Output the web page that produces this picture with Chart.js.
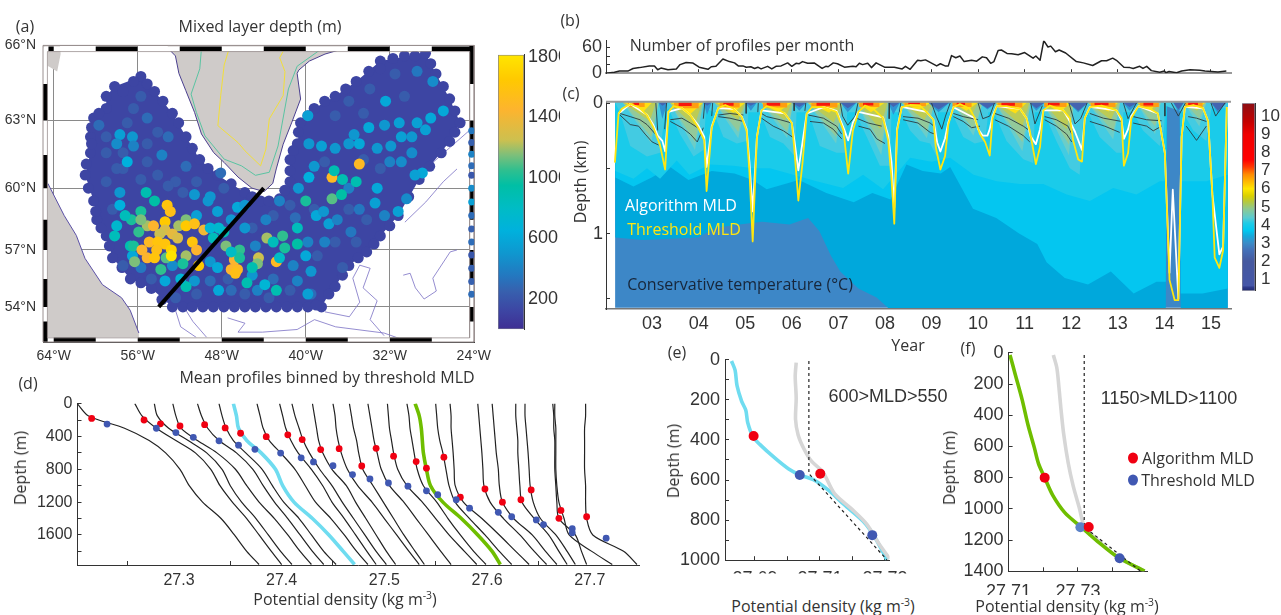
<!DOCTYPE html>
<html>
<head>
<meta charset="utf-8">
<script src="https://cdn.jsdelivr.net/npm/chart.js@4"></script>
<style>
html,body{margin:0;background:#fff;overflow:hidden}
#page{position:relative;width:1281px;height:615px}
canvas{position:absolute}
.t{position:absolute;white-space:nowrap;transform:translate(-50%,-50%);font-family:"Open Sans",sans-serif;color:#333;line-height:1}
.t sup{font-size:.65em;line-height:0}
.dot{position:absolute;width:10px;height:11px;border-radius:50%;transform:translate(-50%,-50%)}
</style>
</head>
<body>
<div id="page"></div>
<script>
// ---- (a) map: lon, lat, mld
var edgeDots=[[-55.7,64.8],[-54.4,64.2],[-52.7,63.3],[-51.4,62.3],[-50.1,61.3],[-48.4,60.6],[-45.8,59.8],[-44.3,59.4],[-42.5,59.5],[-41.5,60.3],[-41.5,61.3],[-40.8,62.0],[-40.5,62.9],[-39.2,63.5],[-37.2,64.0],[-35.2,64.6],[-32.9,65.4],[-28.6,65.7],[-27.6,64.9],[-26.3,63.9],[-25.3,62.9],[-26.3,62.1],[-29.2,60.4],[-31.2,58.7],[-32.9,57.7],[-34.2,56.9],[-35.9,56.2],[-37.2,55.1],[-37.8,54.7],[-38.5,54.0],[-52.7,54.0],[-54.7,55.0],[-56.7,55.5],[-58.4,56.6],[-59.0,57.7],[-59.9,58.5],[-60.2,59.4],[-61.0,60.6],[-60.5,61.6],[-60.5,62.3],[-60.2,63.1],[-59.0,63.5],[-59.0,64.0],[-58.2,64.4],
[-55.1,64.5],[-53.6,63.8],[-52.1,62.9],[-50.8,61.8],[-49.3,60.9],[-47.1,60.2],[-45.1,59.6],[-43.5,59.4],[-42.0,59.9],[-41.5,60.8],[-41.2,61.7],[-40.7,62.5],[-39.8,63.2],[-38.2,63.8],[-36.2,64.3],[-34.0,65.0],[-32.9,65.1],[-31.7,65.5],[-30.6,65.6],[-29.6,65.6],[-28.1,65.3],[-26.9,64.4],[-25.8,63.4],[-25.8,62.5],[-27.1,61.6],[-28.2,61.0],[-30.2,59.6],[-32.0,58.2],[-33.5,57.3],[-35.0,56.6],[-36.5,55.7],
[-51.7,54.0],[-50.8,54.0],[-49.8,54.0],[-48.8,54.0],[-47.8,54.0],[-46.8,54.0],[-45.8,54.0],[-44.8,54.0],[-43.8,54.0],[-42.8,54.0],[-41.8,54.0],[-40.8,54.0],[-39.8,54.0],[-39.0,54.1],
[-53.7,54.4],[-55.7,55.3],[-57.5,56.1],[-58.7,57.2],[-59.5,58.1],[-60.0,58.9],[-60.7,60.0],[-60.9,61.1],[-60.4,62.0],[-60.4,62.7],[-59.7,63.3],[-56.4,64.6],[-57.4,64.2]];
var regionOutline=[[-55.7,64.8],[-54.4,64.2],[-52.7,63.3],[-51.4,62.3],[-50.1,61.3],[-48.4,60.6],[-45.8,59.8],[-44.3,59.4],[-42.5,59.5],[-41.5,60.3],[-41.5,61.3],[-40.8,62.0],[-40.5,62.9],[-39.2,63.5],[-37.2,64.0],[-35.2,64.6],[-32.9,65.4],[-28.6,65.7],[-27.6,64.9],[-26.3,63.9],[-25.3,62.9],[-26.3,62.1],[-29.2,60.4],[-31.2,58.7],[-32.9,57.7],[-34.2,56.9],[-35.9,56.2],[-37.2,55.1],[-37.8,54.7],[-38.5,54.0],[-52.7,54.0],[-54.7,55.0],[-56.7,55.5],[-58.4,56.6],[-59.0,57.7],[-59.9,58.5],[-60.2,59.4],[-61.0,60.6],[-60.5,61.6],[-60.5,62.3],[-60.2,63.1],[-59.0,63.5],[-59.0,64.0],[-58.2,64.4]];
var textureDots=[[-59.0,61.6],[-57.4,60.9],[-55.1,61.2],[-54.1,60.6],[-52.4,60.3],[-55.7,60.4],[-59.0,60.3],[-57.4,61.6],[-55.1,62.0],[-58.4,59.0],[-56.4,63.5],[-54.1,62.5],[-50.4,60.3],[-47.8,60.0],[-59.0,62.3],[-57.0,62.9],[-55.7,64.0],[-58.0,60.9],[-51.7,59.8],[-53.1,60.1],[-47.4,55.5],[-45.8,54.7],[-43.5,54.5],[-41.5,54.9],[-50.4,54.7],[-52.4,54.5],[-54.7,55.5],[-57.4,56.2],[-45.1,58.1],[-43.1,58.7],[-41.5,59.2],[-35.9,63.8],[-33.9,64.3],[-31.5,64.9],[-30.6,64.0],[-37.2,63.2],[-34.5,63.3],[-38.2,61.2],[-34.5,61.3],[-32.9,60.9],[-35.9,59.0],[-34.2,58.5],[-37.2,57.4],[-35.2,57.4],[-39.2,59.0],[-38.9,56.7],[-36.5,56.1]];
var mediumDots=[[-39.8,63.2,550],[-32.4,63.8,600],[-29.4,65.0,350],[-27.9,64.6,450],[-26.9,63.4,600],[-28.1,63.1,600],[-29.4,62.9,550],[-31.1,62.9,550],[-32.5,62.8,500],[-34.0,62.7,600],[-35.4,62.4,500],[-34.9,62.0,600],[-28.6,62.6,550],[-29.9,62.3,500],[-30.9,62.3,550],[-31.9,61.9,500],[-33.2,61.8,500],[-35.9,62.0,500],[-37.2,61.8,500],[-38.5,61.9,550],[-39.7,62.0,500],[-29.9,61.6,450],[-28.9,60.7,600],[-29.6,60.6,550],[-30.9,61.2,450],[-32.0,61.2,400],[-33.2,60.0,600],[-35.9,60.0,400],[-39.7,60.5,650],[-39.2,61.0,500],[-40.7,60.0,500],[-30.4,59.5,450],[-31.2,58.9,550],[-33.4,59.3,550],[-39.0,58.7,600],[-38.3,58.9,500],[-37.8,58.3,550],[-34.9,59.0,350],[-37.0,58.5,400],[-35.7,57.9,350],[-32.5,58.7,400],[-38.2,57.4,400],
[-57.7,62.4,550],[-56.5,62.3,500],[-57.0,61.2,650],[-56.4,61.9,400],[-53.7,61.5,400],[-57.7,59.8,500],[-49.1,59.6,500],[-50.6,59.7,500],[-48.4,58.9,550],[-46.5,59.1,600],[-45.8,59.2,500],[-47.1,58.5,500],[-48.1,60.7,300],[-58.0,62.0,450],[-59.7,62.8,300],[-55.1,63.1,300],[-53.1,62.3,300],[-51.4,61.0,300],[-53.4,55.4,600],[-55.7,56.1,350],[-52.7,56.2,450],[-56.5,56.7,600],[-50.4,58.7,550],[-49.3,59.4,500],[-50.6,55.4,500],[-47.1,54.9,300],[-44.6,54.9,400],[-48.3,54.9,600],[-49.1,56.4,500],[-45.1,55.7,500],[-43.1,55.5,300],[-40.8,55.4,400],[-41.2,56.2,400],[-39.5,54.7,300],[-42.5,59.4,400],[-43.8,58.5,400],[-45.8,58.1,500],[-44.8,57.2,400],[-49.1,55.4,300],[-39.8,57.4,400],[-41.0,58.6,300]];
var highDots=[[-55.2,59.8,900],[-56.6,58.5,1000],[-55.7,58.9,1000],[-55.1,58.2,1200],[-55.7,58.5,1150],[-54.4,59.4,950],[-53.2,59.2,1600],[-52.9,58.9,1550],[-51.4,58.5,1150],[-53.4,58.4,1650],[-52.1,58.2,1200],[-51.4,58.2,1650],[-50.6,58.3,1550],[-53.4,58.0,1300],[-54.5,58.2,1450],[-55.9,57.9,1050],[-53.9,57.8,1250],[-52.7,57.8,1350],[-52.2,57.6,1300],[-49.7,58.0,1400],[-56.7,57.2,900],[-56.4,57.2,1000],[-54.9,57.4,1500],[-54.1,57.4,1600],[-53.4,57.3,1600],[-55.6,57.0,1450],[-54.2,57.0,1550],[-52.8,57.0,1700],[-50.8,57.4,1600],[-50.4,57.0,1450],[-51.4,56.7,1200],[-55.1,56.6,1450],[-54.4,56.6,1600],[-53.3,56.6,1100],[-52.8,56.7,1800],[-56.3,56.4,1150],[-53.8,56.0,1050],[-51.7,56.3,1000],[-50.2,56.2,1650],[-58.2,57.7,850],[-58.0,58.2,750],[-57.2,58.7,850],[-57.7,59.2,650],[-48.8,57.6,850],[-47.8,57.9,900],[-47.6,57.2,1150],[-49.1,58.1,700],[-48.3,58.1,750],[-51.4,55.1,900],[-51.9,55.5,700],
[-47.1,56.0,1450],[-46.5,56.0,1500],[-46.7,55.8,1550],[-46.8,56.5,1450],[-46.3,57.0,1050],[-46.3,56.6,1000],[-44.5,56.6,1250],[-44.6,56.3,1150],[-43.7,57.6,1200],[-45.1,56.1,900],[-45.6,55.3,900],[-42.8,56.4,1500],[-42.2,57.7,1050],[-40.8,57.3,950],[-43.1,57.4,850],[-42.0,57.1,1000],[-42.8,54.9,900],[-42.5,56.6,800],[-40.8,58.1,850],[-43.9,55.2,700],[-47.1,56.9,800],[-48.4,56.1,600],[-40.0,59.4,1000],[-37.5,59.5,1100],[-36.6,59.7,950],[-37.5,60.5,1500],[-34.9,61.1,1500],[-37.3,60.8,900],[-36.5,60.4,900],[-35.2,60.3,900],[-39.5,55.9,500],[-39.8,54.7,550],[-40.0,56.7,600]];
var rightEdgeDots=[[-24.2,62.56,350],[-24.2,62.05,250],[-24.2,61.54,400],[-24.2,61.02,300],[-24.2,60.59,200],[-24.2,60.0,450],[-24.2,59.35,550],[-24.2,58.7,300],[-24.2,58.05,250],[-24.2,57.4,300],[-24.2,56.74,200],[-24.2,56.06,250],[-24.2,55.37,250],[-24.2,54.69,300]];
var greenlandCoast=[[-53.14,65.9],[-52.41,65.6],[-52.08,64.92],[-51.42,64.23],[-50.59,63.34],[-49.93,62.42],[-48.77,61.61],[-47.77,61.17],[-46.45,60.51],[-45.13,60.0],[-43.97,59.84],[-43.14,60.22],[-42.81,60.88],[-42.15,61.98],[-41.32,62.93],[-40.49,63.89],[-40.82,64.92],[-40.66,65.05],[-39.66,65.4],[-38.17,65.67],[-36.19,65.9]];
var greenlandTop=[[-36.19,66.5],[-53.14,66.5]];
var greenlandTeal=[[-49.93,65.9],[-50.09,65.1],[-50.92,64.09],[-50.42,63.34],[-49.6,62.34],[-47.77,61.32],[-46.12,61.02],[-44.79,60.59],[-43.47,60.73],[-42.64,61.9],[-41.65,64.3],[-40.82,65.2],[-38.5,65.87]];
var greenlandYellow=[[-47.28,65.9],[-47.77,65.25],[-48.1,64.03],[-48.37,62.78],[-46.45,62.05],[-45.79,61.69],[-44.3,61.02],[-43.8,61.76],[-43.47,63.07],[-42.15,64.03],[-41.98,64.99],[-42.48,65.53],[-41.98,65.9]];
var labradorCoast=[[-65.5,60.22],[-64.56,60.22],[-63.0,58.7],[-61.85,57.73],[-61.02,56.57],[-59.36,55.2],[-57.54,54.5],[-56.72,53.82],[-55.89,52.55],[-55.89,51.9],[-65.5,51.9]];
var baffinCoast=[[-65.5,66.5],[-63.5,66.5],[-63.34,65.67],[-63.67,64.99],[-64.5,65.2],[-65.5,65.2]];
var bathyLines=[[[-24.43,62.57],[-27.9,61.17],[-29.9,60.0],[-32.2,58.2],[-33.87,57]],[[-25.6,60.88],[-26.9,60.3],[-28.57,59.35],[-30.56,58.38]],[[-52.41,53.83],[-51.91,52.9],[-50.42,52.3]],[[-51.42,53.83],[-50.75,53.2],[-49.43,52.3]],[[-38.17,53.73],[-35.85,53.46],[-34.86,54.26],[-35.52,55.54],[-34.86,56.22],[-33.87,56.06],[-34.54,55.03],[-33.2,54.34],[-33.87,53.3],[-32.54,52.4]],[[-30.72,55.7],[-30.06,55.8],[-29.56,55.03],[-28.73,54.43],[-27.57,54.86],[-27.9,55.54],[-26.25,56.9],[-25.6,57]],[[-47.44,53.4],[-45.79,53.1],[-46.45,52.6],[-44.13,52.6],[-40.82,52.75],[-39.17,53.3],[-37.16,52.9],[-32.54,52.55],[-30.9,52.2]],[[-36.9,60.9],[-33.2,59.2],[-40.8,58.0],[-44.3,57.5]]];
var sectionLon=[-54,-44];
var sectionLat=[54,60];
var lonTicks=[-64,-56,-48,-40,-32,-24];
var latTicks=[54,57,60,63,66];
var frameTopBlack=[[-64.5,-64],[-60,-56],[-52,-48],[-44,-40],[-36,-32],[-28,-24]];
var frameBottomBlack=[[-64,-60],[-56,-52],[-48,-44],[-40,-36],[-32,-28]];
var frameLeftBlack=[[63,64.5],[60,61.5],[57,58.5],[54,55.5],[52,53.2]];
var frameRightBlack=[[64.5,66],[61.5,63],[58.5,60],[55.5,57],[53.2,54]];
var mldBarTicks=[200,400,600,800,1000,1200,1400,1600,1800];

// ---- (b) profiles per month
var profileYear=[2.01,2.19,2.30,2.48,2.59,2.73,2.94,3.05,3.12,3.19,3.34,3.52,3.60,3.73,3.87,4.01,4.20,4.27,4.37,4.52,4.66,4.77,4.85,4.95,5.02,5.12,5.20,5.27,5.34,5.48,5.57,5.66,5.77,5.91,6.00,6.09,6.16,6.23,6.34,6.48,6.65,6.73,6.78,6.89,6.98,7.13,7.31,7.38,7.45,7.52,7.63,7.71,7.81,7.99,8.20,8.37,8.44,8.54,8.70,8.77,8.87,8.97,9.11,9.19,9.29,9.36,9.43,9.52,9.61,9.70,9.86,9.97,10.09,10.18,10.27,10.34,10.43,10.50,10.62,10.72,10.86,11.00,11.18,11.24,11.33,11.41,11.50,11.56,11.66,11.74,11.88,12.11,12.26,12.46,12.65,12.76,12.89,12.97,13.13,13.26,13.33,13.47,13.54,13.62,13.72,13.90,14.00,14.03,14.10,14.26,14.37,14.55,14.76,14.87,15.01,15.15,15.33];
var profileCount=[0,2,5,5,11,13,17,17,8,12,8,10,20,25,24,14,9,15,16,33,27,24,17,17,14,15,11,14,10,16,10,16,17,24,16,23,22,27,23,24,11,16,15,24,22,14,16,15,23,20,23,13,24,14,14,10,16,9,30,29,31,25,17,22,17,17,41,36,40,27,30,28,38,36,23,27,53,54,46,45,43,48,35,40,30,76,61,63,50,54,47,27,24,18,29,29,35,30,14,13,11,16,11,16,6,2,5,1,4,1,5,8,7,5,4,3,5];
var yearTicks=[3,4,5,6,7,8,9,10,11,12,13,14,15];
var yearLabels=['03','04','05','06','07','08','09','10','11','12','13','14','15'];

// ---- (c) temperature section: [year, depth km]
var dataStart=2.206, dataEnd=15.36, dataBottom=1.569;
var tempDarkEdge=[[2.21,1.03],[2.80,1.05],[3.98,1.03],[4.38,.955],[4.87,.93],[5.36,.91],[5.95,.93],[6.35,.88],[6.59,.98],[6.84,1.17],[7.04,1.29],[7.43,1.42],[7.82,1.49],[8.07,1.57],[14.03,1.57],[14.05,0],[14.33,0],[14.35,1.57],[15.36,1.57]];
var tempMidEdge=[[2.21,.57],[2.60,.64],[2.99,.57],[3.39,.49],[3.78,.59],[4.28,.52],[4.77,.54],[5.16,.59],[5.46,.66],[6.15,.59],[6.74,.69],[7.33,.76],[7.73,.69],[8.12,.74],[8.46,.47],[8.81,.52],[9.20,.54],[9.40,.49],[9.89,.81],[10.39,.88],[10.88,1.0],[11.27,1.08],[11.47,1.22],[11.86,1.34],[12.36,1.39],[12.85,1.29],[13.34,1.46],[13.83,1.37],[14.03,1.37],[14.05,0],[14.33,0],[14.35,1.46],[14.82,1.46],[15.36,1.42]];
var tempLightEdge=[[2.21,.52],[2.6,.58],[2.89,.5],[3.17,.58],[3.53,.44],[3.8,.55],[4.24,.47],[4.75,.48],[5.17,.5],[5.53,.5],[6.03,.55],[6.53,.6],[7.1,.65],[7.53,.55],[7.96,.66],[8.54,.42],[9.0,.45],[9.4,.42],[9.9,.55],[10.4,.6],[10.9,.62],[11.4,.62],[11.9,.7],[12.4,.75],[12.9,.65],[13.4,.7],[13.9,.6],[14.03,.6],[14.05,0],[14.33,0],[14.35,.6],[14.9,.6],[15.36,.55]];
var tempTealEdge=[[2.31,.07],[2.53,.33],[2.89,.41],[3.17,.38],[3.28,.07],[3.35,.04],[3.60,.24],[3.89,.41],[4.10,.36],[4.16,.04],[4.32,.07],[4.53,.26],[4.82,.31],[5.03,.29],[5.07,.07],[5.32,.07],[5.53,.26],[5.82,.31],[6.07,.41],[6.10,.07],[6.36,.07],[6.60,.33],[6.96,.38],[7.14,.38],[7.19,.07],[7.36,.07],[7.61,.26],[7.89,.48],[8.11,.48],[8.14,.07],[8.36,.07],[8.54,.21],[8.75,.29],[8.97,.31],[9.11,.41],[9.14,.07],[9.43,.07],[9.68,.26],[9.93,.31],[10.15,.29],[10.22,.07],[10.34,.07],[10.61,.29],[10.97,.43],[11.18,.46],[11.22,.07],[11.41,.07],[11.68,.29],[11.97,.50],[12.18,.55],[12.26,.07],[12.36,.07],[12.61,.26],[12.97,.38],[13.08,.38],[13.12,.07],[13.33,.07],[13.54,.21],[13.90,.33],[13.99,.21],[14.02,.02],[14.40,.07],[14.62,.21],[14.90,.29],[15.01,.04]];
var greenStart=[2.37,3.38,4.34,5.34,6.34,7.4,8.36,9.44,10.36,11.4,12.36,13.4,14.42];
var greenPeak=[2.98,3.92,4.85,5.9,6.95,7.92,8.9,9.9,10.95,11.95,12.9,13.8,14.75];
var greenEnd=[3.14,4.1,5.02,6.03,7.1,8.08,9.06,10.1,11.13,12.05,13.05,13.92,14.9];
var paleDepth=[.31,.36,.27,.27,.31,.4,.27,.25,.37,.4,.28,.24,.18];
var greenDepth=[.26,.30,.22,.22,.26,.32,.22,.20,.30,.32,.22,.18,.12];
var olivePeak=[2.95,3.9,4.85,5.85,6.9,7.9,8.85,9.85,10.95,11.9,12.85,13.75,14.7];
var oliveEnd=[3.08,4.08,5.0,6.0,7.08,8.05,9.02,10.0,11.1,12.02,13.02,13.88,14.88];
var oliveDepth=[.14,.18,.13,.13,.15,.2,.13,.1,.18,.2,.13,.08,.06];
var yellowStart=[2.4,3.4,4.38,5.34,6.36,7.42,8.38,9.46,10.38,11.4,12.38,13.42,14.44];
var yellowPeak=[2.8,3.8,4.75,5.7,6.8,7.7,8.7,9.75,10.8,11.75,12.8,13.7,14.7];
var yellowEnd=[3.0,4.1,5.0,6.0,7.05,8.0,9.0,10.0,11.05,12.0,13.0,13.85,14.88];
var yellowDepth=[.07,.09,.075,.07,.075,.07,.055,.06,.08,.07,.065,.06,.05];
var orangeStart=[2.48,3.47,4.45,5.38,6.42,7.45,8.42,9.45,10.42,11.42,12.42,13.47,14.45];
var orangeEnd=[2.84,4.0,4.88,5.9,6.98,7.88,8.88,9.86,10.95,11.9,12.95,13.88,14.82];
var orangeDepth=[.03,.04,.035,.035,.035,.03,.025,.03,.035,.03,.03,.03,.03];
var redStart=[2.6,3.57,4.53,5.46,6.53,7.53,8.5,9.54,10.5,11.5,12.5,13.55,14.51];
var redEnd=[2.72,3.85,4.75,5.75,6.82,7.75,8.75,9.72,10.79,11.75,12.8,13.76,14.72];
var redDepth=[.015,.022,.02,.02,.02,.018,.012,.015,.02,.018,.016,.018,.015];
var winterStart=[3.14,4.10,5.0,6.0,7.04,8.07,8.93,10.0,11.1,11.93,13.11,14.19,15.0];
var winterEnd=[3.33,4.28,5.25,6.32,7.39,8.32,9.39,10.4,11.43,12.36,13.44,14.42,15.33];
var winterPeak=[3.22,4.18,5.12,6.16,7.2,8.18,9.15,10.2,11.25,12.15,13.25,14.3,15.15];
var winterDepth=[.12,.09,.06,.06,.07,.09,.07,.05,.06,.07,.06,.07,.08];
var winterCore=[.02,.02,.02,.03,.04,.03,.05,.04,.04,.06,.03,.05,.06];
var contourUpper=[[2.31,.08],[2.53,.104],[2.74,.128],[2.89,.165],[3.07,.238],[3.14,.262],null,[3.39,.128],[3.64,.116],[3.82,.153],[4.03,.201],null,[4.42,.092],[4.67,.08],[4.96,.092],null,[5.35,.08],[5.46,.104],[5.75,.128],[6.0,.153],null,[6.36,.092],[6.68,.116],[6.96,.177],[7.07,.238],null,[7.39,.116],[7.64,.153],[7.93,.177],null,[8.39,.104],[8.71,.116],[8.97,.153],[9.05,.177],null,[9.47,.08],[9.68,.104],[10.0,.128],null,[10.36,.08],[10.65,.116],[10.97,.177],[11.11,.213],null,[11.43,.104],[11.68,.128],[11.93,.177],[12.01,.238],null,[12.4,.08],[12.69,.116],[13.08,.141],null,[13.33,.104],[13.62,.128],[13.94,.136],null,[14.51,.104],[14.69,.116],[14.9,.141]];
var contourLower=[[2.31,.092],[2.53,.165],[2.71,.177],[2.85,.238],[3.0,.298],[3.14,.322],null,[3.39,.141],[3.64,.189],[3.82,.238],[3.97,.298],[4.1,.189],null,[4.42,.104],[4.67,.116],[4.96,.141],null,[5.35,.116],[5.6,.177],[5.82,.213],[6.02,.262],null,[6.39,.141],[6.68,.153],[6.89,.201],[7.07,.274],null,[7.43,.177],[7.68,.201],[7.82,.274],[8.0,.31],null,[8.39,.128],[8.71,.153],[8.97,.225],[9.07,.238],null,[9.47,.104],[9.68,.141],[9.86,.189],[10.04,.177],null,[10.36,.128],[10.65,.177],[10.97,.25],[11.11,.298],null,[11.43,.128],[11.68,.177],[11.9,.238],[12.01,.298],null,[12.4,.141],[12.72,.177],[13.04,.225],null,[13.33,.153],[13.62,.177],[13.76,.213],[13.94,.177],null,[14.47,.177],[14.69,.286],[14.9,.177]];
var contourWinter=[[3.08,0],[3.12,.21],null,[3.31,0],[3.27,.2],null,[4.13,0],[4.1,.12],null,[4.3,0],[4.28,.1],null,[5.02,0],[5.02,.08],null,[5.28,0],[5.27,.07],null,[6.05,0],[6.05,.06],null,[6.3,0],[6.28,.06],null,[7.04,0],[7.09,.1],[7.2,.17],[7.36,.1],[7.42,0],null,[8.1,0],[8.09,.12],null,[8.34,0],[8.3,.09],null,[9.0,0],[9.1,.1],[9.22,.2],[9.3,.1],[9.4,0],null,[10.0,0],[10.1,.12],[10.25,.1],[10.35,0],null,[11.13,0],[11.22,.16],[11.38,.02],null,[11.95,0],[12.08,.16],[12.2,.12],[12.34,0],null,[13.12,0],[13.22,.12],[13.4,0],null,[14.01,0],[14.01,.1],null,[14.15,0],[14.3,.1],[14.45,0],null,[15.0,0],[15.1,.1],[15.3,0]];
var thresholdMld=[[2.20,.456],[2.28,.08],[2.35,.044],[2.53,.007],[2.71,.032],[2.89,.092],[3.03,.189],[3.17,.322],[3.28,.509],[3.35,.068],[3.46,.024],[3.64,.039],[3.82,.092],[3.99,.189],[4.12,.286],[4.17,.674],[4.28,.189],[4.42,.039],[4.57,.015],[4.75,.044],[4.92,.104],[5.03,.213],[5.09,.528],[5.16,1.06],[5.25,.262],[5.35,.056],[5.46,.024],[5.68,.044],[5.85,.08],[6.00,.153],[6.05,.335],[6.14,.747],[6.23,.456],[6.32,.08],[6.43,.032],[6.68,.032],[6.96,.068],[7.11,.213],[7.21,.541],[7.31,.213],[7.43,.068],[7.57,.019],[7.75,.044],[7.96,.116],[8.07,.286],[8.14,.577],[8.20,.924],[8.26,.213],[8.36,.032],[8.54,.015],[8.75,.019],[8.89,.068],[9.04,.128],[9.09,.335],[9.19,.509],[9.29,.407],[9.36,.165],[9.47,.032],[9.61,.007],[9.82,.044],[9.93,.116],[10.04,.238],[10.15,.298],[10.25,.402],[10.31,.116],[10.40,.024],[10.61,.024],[10.90,.044],[11.04,.116],[11.11,.213],[11.24,.468],[11.33,.335],[11.40,.056],[11.54,.019],[11.83,.056],[11.97,.116],[12.04,.286],[12.15,.432],[12.23,.449],[12.29,.116],[12.40,.032],[12.65,.019],[12.97,.056],[13.08,.116],[13.13,.48],[13.22,.383],[13.29,.116],[13.44,.024],[13.69,.044],[13.86,.08],[14.01,.383],[14.11,1.355],[14.22,1.51],[14.30,1.51],[14.34,.785],[14.37,.262],[14.44,.032],[14.62,.015],[14.83,.039],[14.94,.141],[15.03,.698],[15.08,1.185],[15.18,1.263],[15.26,1.13],[15.34,.03]];
var algorithmMld=[[2.28,.08],[2.53,.007],[2.89,.09],[3.03,.17],[3.12,.25],[3.22,.29],[3.28,.37],[3.35,.068],[3.64,.039],[3.82,.092],[3.99,.17],[4.12,.26],[4.17,.49],[4.28,.18],[4.42,.039],[4.75,.044],[4.92,.1],[5.03,.2],[5.09,.45],[5.16,.83],[5.25,.26],[5.35,.056],[5.85,.08],[6.0,.153],[6.06,.3],[6.14,.516],[6.23,.3],[6.32,.08],[6.68,.032],[6.96,.06],[7.11,.19],[7.21,.286],[7.31,.15],[7.43,.068],[7.96,.11],[8.07,.25],[8.14,.45],[8.2,.8],[8.26,.2],[8.36,.03],[8.89,.068],[9.04,.128],[9.12,.3],[9.19,.371],[9.29,.27],[9.36,.15],[9.47,.032],[9.93,.116],[10.0,.2],[10.1,.25],[10.2,.25],[10.25,.2],[10.31,.1],[10.40,.024],[10.9,.044],[11.04,.116],[11.12,.25],[11.24,.315],[11.33,.2],[11.4,.056],[11.83,.056],[11.97,.14],[12.08,.22],[12.23,.359],[12.29,.116],[12.4,.03],[12.97,.056],[13.08,.13],[13.13,.274],[13.22,.2],[13.29,.1],[13.44,.024],[13.86,.08],[14.01,.383],[14.11,1.3],[14.18,.664],[14.30,1.5],[14.37,.26],[14.44,.03],[14.83,.04],[14.94,.141],[15.03,.7],[15.18,1.16],[15.26,1.1],[15.34,.03]];
var tempBarTicks=[1,2,3,4,5,6,7,8,9,10];

// ---- (d) density profiles
var profileDepths=[0,150,300,450,600,800,1000,1200,1400,1600,1800,1960];
var densityProfiles=[
[27.201,27.212,27.247,27.271,27.287,27.301,27.310,27.323,27.341,27.354,27.366,27.378],
[27.257,27.264,27.278,27.297,27.316,27.331,27.340,27.352,27.366,27.378,27.390,27.400],
[27.276,27.279,27.290,27.309,27.327,27.342,27.350,27.361,27.375,27.387,27.399,27.410],
[27.294,27.297,27.302,27.318,27.337,27.355,27.366,27.378,27.393,27.406,27.418,27.429],
[27.318,27.322,27.328,27.339,27.356,27.372,27.382,27.393,27.406,27.418,27.430,27.441],
[27.339,27.342,27.346,27.353,27.365,27.381,27.391,27.402,27.417,27.429,27.441,27.453],
[27.353,27.356,27.358,27.366,27.380,27.394,27.401,27.412,27.430,27.446,27.460,27.471],
[27.376,27.379,27.382,27.388,27.399,27.413,27.423,27.433,27.448,27.461,27.473,27.484],
[27.398,27.401,27.404,27.409,27.416,27.429,27.440,27.449,27.461,27.472,27.483,27.492],
[27.410,27.413,27.417,27.421,27.427,27.437,27.449,27.459,27.470,27.481,27.492,27.502],
[27.430,27.432,27.434,27.436,27.440,27.449,27.463,27.472,27.482,27.492,27.502,27.511],
[27.450,27.452,27.453,27.455,27.458,27.464,27.474,27.488,27.500,27.512,27.524,27.534],
[27.466,27.468,27.470,27.473,27.475,27.479,27.489,27.499,27.509,27.519,27.530,27.539],
[27.484,27.486,27.488,27.490,27.493,27.497,27.505,27.519,27.531,27.543,27.555,27.565],
[27.503,27.504,27.505,27.507,27.509,27.513,27.522,27.537,27.550,27.563,27.578,27.590],
[27.522,27.524,27.525,27.527,27.529,27.532,27.538,27.551,27.562,27.574,27.587,27.599],
[27.530,27.534,27.536,27.537,27.538,27.541,27.545,27.557,27.575,27.591,27.605,27.613],
[27.550,27.551,27.552,27.554,27.557,27.560,27.563,27.569,27.583,27.598,27.612,27.624],
[27.564,27.565,27.565,27.566,27.567,27.568,27.569,27.577,27.595,27.612,27.628,27.641],
[27.591,27.592,27.593,27.594,27.595,27.596,27.597,27.603,27.616,27.632,27.646,27.658],
[27.605,27.606,27.607,27.608,27.609,27.611,27.612,27.615,27.626,27.644,27.657,27.668],
[27.628,27.628,27.629,27.630,27.630,27.631,27.632,27.634,27.646,27.660,27.670,27.678],
[27.637,27.637,27.638,27.639,27.640,27.641,27.642,27.645,27.652,27.667,27.678,27.686],
[27.664,27.665,27.665,27.666,27.666,27.666,27.667,27.668,27.670,27.686,27.692,27.697],
[27.666,27.666,27.667,27.667,27.667,27.667,27.668,27.670,27.675,27.680,27.702,27.722],
[27.696,27.696,27.695,27.695,27.695,27.695,27.696,27.696,27.697,27.703,27.733,27.746]];
var algorithmDensity=[27.215,27.266,27.282,27.301,27.325,27.345,27.360,27.385,27.406,27.420,27.438,27.456,27.478,27.492,27.509,27.531,27.541,27.558,27.574,27.598,27.615,27.633,27.643,27.670,27.672,27.697];
var algorithmDepth=[180,200,246,273,257,296,361,403,380,438,560,549,760,545,641,706,787,653,1140,1040,1201,1171,1052,1397,1301,1378];
var thresholdDensity=[27.230,27.278,27.297,27.314,27.339,27.358,27.374,27.399,27.419,27.431,27.450,27.469,27.486,27.504,27.523,27.541,27.552,27.570,27.583,27.611,27.624,27.648,27.655,27.683,27.683,27.716];
var thresholdDepth=[250,300,353,411,453,507,557,603,660,710,756,864,917,967,1006,1063,1109,1171,1274,1324,1378,1417,1474,1524,1574,1639];
var densityLabelTicks=[27.3,27.4,27.5,27.6,27.7];
var densityMarkTicks=[27.25,27.3,27.35,27.4,27.45,27.5,27.55,27.6,27.65,27.7];
var depthTicksD=[0,200,400,600,800,1000,1200,1400,1600,1800];

// ---- (e)
var eCyan=[[27.6828,6],[27.6839,52],[27.6845,129],[27.6859,206],[27.6872,252],[27.6878,314],[27.6894,383],[27.6915,422],[27.6962,491],[27.7004,545],[27.7039,575],[27.7080,598],[27.7127,652],[27.7174,722],[27.7233,806],[27.7268,883],[27.7306,998]];
var eGrey=[[27.7027,14],[27.7024,83],[27.7027,191],[27.7025,298],[27.7033,375],[27.7051,445],[27.7074,506],[27.7109,560],[27.7145,668],[27.7198,745],[27.7245,822],[27.7280,914],[27.7315,994]];
var eDashed=[[27.7066,6],[27.7066,568],[27.7306,998]];
var eAlgorithm=[[27.6896,380],[27.7101,568]];
var eThreshold=[[27.7038,575],[27.7261,875]];
// ---- (f)
var fGreen=[[27.7104,14],[27.7119,137],[27.7139,300],[27.7156,463],[27.7174,606],[27.7186,708],[27.7204,800],[27.7227,912],[27.7262,1024],[27.7309,1116],[27.7356,1208],[27.7415,1310],[27.7492,1398]];
var fGrey=[[27.7229,14],[27.7239,96],[27.7245,218],[27.7251,361],[27.7259,524],[27.7272,708],[27.7286,851],[27.7304,994],[27.7319,1116],[27.7356,1198],[27.7415,1310],[27.7492,1398]];
var fDashed=[[27.7318,14],[27.7318,1116],[27.7480,1398]];
var fAlgorithm=[[27.7204,800],[27.7331,1116]];
var fThreshold=[[27.7420,1316]];
var fThresholdLight=[[27.7307,1118]];

// ---- helpers
var NUM='"Liberation Sans",sans-serif';
var MLD_STOPS=[[0,'#3e2e93'],[120,'#3d45a3'],[250,'#3760ae'],[350,'#2477bf'],[500,'#0f97cf'],[650,'#00b1dd'],[800,'#00bcc5'],[950,'#00bfa5'],[1050,'#2fbf8f'],[1150,'#7dbf7a'],[1250,'#cdc04f'],[1450,'#fdb42e'],[1650,'#ffc900'],[1812,'#ffe600']];
var TEMP_STOPS=[[.36,'#1f2a6e'],[.55,'#2f3a8c'],[.65,'#4556a8'],[2,'#46599f'],[2.6,'#4470b8'],[3,'#3b8cc8'],[3.4,'#14a9dc'],[3.7,'#00c8f0'],[4.1,'#1fcbe6'],[4.4,'#5acbd0'],[4.9,'#8ec98f'],[5.3,'#b7c93a'],[5.6,'#d9d000'],[6,'#ffe600'],[6.4,'#ffb800'],[6.8,'#ff8a00'],[7.2,'#ff3a00'],[7.6,'#ff0000'],[9,'#f00000'],[9.7,'#c40000'],[10.73,'#8c0f14']];

function hex(c){return [parseInt(c.slice(1,3),16),parseInt(c.slice(3,5),16),parseInt(c.slice(5,7),16)]}
function mldColor(v){
  for(var i=1;i<MLD_STOPS.length;i++){
    if(v<=MLD_STOPS[i][0]){
      var a=MLD_STOPS[i-1],b=MLD_STOPS[i],f=(v-a[0])/(b[0]-a[0]),p=hex(a[1]),q=hex(b[1]);
      return 'rgb('+[0,1,2].map(function(k){return Math.round(p[k]+(q[k]-p[k])*f)}).join(',')+')';
    }
  }
  return MLD_STOPS[MLD_STOPS.length-1][1];
}
function merc(lat){return Math.log(Math.tan(Math.PI/4+lat*Math.PI/360))}
function xy(list){return list.map(function(p){return p?{x:p[0],y:p[1]}:{x:null,y:null}})}
function lonlat(list){return list.map(function(p){return p?{x:p[0],y:merc(p[1])}:{x:null,y:null}})}
function line(data,color,width,extra){return Object.assign({data:data,showLine:true,borderColor:color,borderWidth:width,pointRadius:0,tension:0,spanGaps:false,borderJoinStyle:'round'},extra||{})}
function poly(data,color){return {data:data,polyColor:color,showLine:false,pointRadius:0}}
function dots(data,color,r){return {data:data,showLine:false,pointRadius:r,pointBackgroundColor:color,pointBorderWidth:0,borderWidth:0}}
function joinBreaks(lists){var out=[];lists.forEach(function(l){out=out.concat(l);out.push(null)});return out}

// closes a filled contour along the top of the section
function bandTo0(edge){return xy([[dataStart,-.004]].concat(edge).concat([[dataEnd,edge[edge.length-1][1]],[dataEnd,-.004]]))}
function humps(start,peak,depth,end){
  var out=[[dataStart,-.004]];
  start.forEach(function(s,i){out.push([s,-.004],[peak[i],depth[i]],[end[i],-.004])});
  out.push([dataEnd,-.004]);
  return xy(out);
}
function strips(start,end,depth){
  var out=[[dataStart,-.004]];
  start.forEach(function(s,i){out.push([s,-.004],[s,depth[i]],[end[i],depth[i]],[end[i],-.004])});
  out.push([dataEnd,-.004]);
  return xy(out);
}

Chart.register({id:'polygonFill',beforeDatasetDraw:function(chart,args){
  var ds=chart.data.datasets[args.index];
  if(!ds.polyColor)return;
  var pts=chart.getDatasetMeta(args.index).data,c=chart.ctx,a=chart.chartArea;
  c.save();c.beginPath();c.rect(a.left,a.top,a.right-a.left,a.bottom-a.top);c.clip();
  c.beginPath();
  pts.forEach(function(p,i){if(i)c.lineTo(p.x,p.y);else c.moveTo(p.x,p.y)});
  c.closePath();c.fillStyle=ds.polyColor;c.fill();c.restore();
}});

function axis(o){
  return {type:'linear',position:o.pos,min:o.min,max:o.max,reverse:!!o.reverse,display:o.display===undefined?true:o.display,
    afterBuildTicks:function(s){s.ticks=o.ticks.map(function(v){return {value:v}})},
    afterFit:function(s){if(s.isHorizontal())s.height=o.size;else s.width=o.size},
    border:{color:o.color||'#333',width:o.bw||1,dash:[]},
    grid:{drawOnChartArea:!!o.grid,color:o.gridColor||'#777',borderDash:o.dash||[],tickLength:o.tl===undefined?-4:o.tl,tickColor:o.tickColor||'#333',drawTicks:o.tl!==0,lineWidth:1},
    ticks:{autoSkip:false,maxRotation:0,minRotation:0,padding:o.pad===undefined?6:o.pad,color:o.fontColor||'#333',font:{family:NUM,size:o.font||16},callback:o.label}};
}
var page=document.getElementById('page');
function panel(box,plot,datasets,xAxis,yAxis,type){
  var cv=document.createElement('canvas');
  cv.width=box[2];cv.height=box[3];
  cv.style.left=box[0]+'px';cv.style.top=box[1]+'px';cv.style.width=box[2]+'px';cv.style.height=box[3]+'px';
  page.appendChild(cv);
  xAxis.size=box[1]+box[3]-plot[1]-plot[3];
  var right=yAxis.pos==='right';
  yAxis.size=right?box[0]+box[2]-plot[0]-plot[2]:plot[0]-box[0];
  return new Chart(cv.getContext('2d'),{
    type:type||'scatter',
    data:{labels:type?['bar']:undefined,datasets:datasets.slice().reverse()},
    options:{responsive:false,animation:false,events:[],devicePixelRatio:1,
      layout:{autoPadding:false,padding:{top:plot[1]-box[1],left:right?plot[0]-box[0]:0,right:right?0:box[0]+box[2]-plot[0]-plot[2],bottom:0}},
      plugins:{legend:{display:false},tooltip:{enabled:false}},
      scales:{x:type?{type:'category',display:false,afterFit:function(s){s.height=0}}:axis(xAxis),y:axis(yAxis)}}
  });
}
function gradientBar(stops,min,max){
  return {data:[[min,max]],barPercentage:1,categoryPercentage:1,borderWidth:1,borderColor:'#7d7d92',borderSkipped:false,
    backgroundColor:function(ctx){
      var s=ctx.chart.scales.y;
      if(!s||!ctx.chart.chartArea)return '#888';
      var g=ctx.chart.ctx.createLinearGradient(0,s.bottom,0,s.top);
      stops.forEach(function(p){g.addColorStop(Math.min(1,Math.max(0,(p[0]-min)/(max-min))),p[1])});
      return g;
    }};
}

// ---- (a) map panel
var latMax=merc(66),latMin=1.0673,lonMin=-65.02,lonMax=-23.96;
function segsH(spans,y){var o=[];spans.forEach(function(s){o.push({x:s[0],y:y},{x:s[1],y:y},{x:null,y:null})});return o}
function segsV(spans,x){var o=[];spans.forEach(function(s){o.push({x:x,y:merc(s[0])},{x:x,y:merc(s[1])},{x:null,y:null})});return o}
var frameTop=1.5431,frameBottom=1.0708,frameLeft=-64.8,frameRight=-24.2;
var ringOuter=[{x:lonMin,y:latMin},{x:lonMin,y:latMax},{x:lonMax,y:latMax},{x:lonMax,y:latMin},{x:lonMin,y:latMin}];
var ringInner=[{x:-64.6,y:1.074},{x:-64.6,y:1.5385},{x:-24.4,y:1.5385},{x:-24.4,y:1.074},{x:-64.6,y:1.074}];
var ringMid=[{x:frameLeft,y:frameBottom},{x:frameLeft,y:frameTop},{x:frameRight,y:frameTop},{x:frameRight,y:frameBottom},{x:frameLeft,y:frameBottom}];
panel([0,30,497,340],[43,43.5,443,298.5],[
  poly(lonlat(greenlandCoast.concat(greenlandTop)),'#cfcbc9'),
  poly(lonlat(labradorCoast),'#cfcbc9'),
  poly(lonlat(baffinCoast),'#cfcbc9'),
  line(lonlat(greenlandTeal),'#5ac4a2',1),
  line(lonlat(greenlandYellow),'#f2df3a',1),
  line(lonlat(greenlandCoast),'#4a3f8f',1),
  line(lonlat(labradorCoast.slice(1,9)),'#5a4fa5',1),
  line(lonlat(joinBreaks(bathyLines)),'#7a70c4',.8),
  poly(lonlat(regionOutline),mldColor(120)),
  dots(lonlat(edgeDots),mldColor(120),5.5),
  dots(lonlat(textureDots),mldColor(230),5.5),
  dots(lonlat(mediumDots),mediumDots.map(function(d){return mldColor(d[2])}),5.5),
  dots(lonlat(highDots),highDots.map(function(d){return mldColor(d[2])}),5.5),
  line(lonlat([[sectionLon[0],sectionLat[0]],[sectionLon[1],sectionLat[1]]]),'#000',4),
  line(ringMid,'#fff',4.6),
  line(segsH(frameTopBlack,frameTop),'#000',4.6),
  line(segsH(frameBottomBlack,frameBottom),'#000',4.6),
  line(segsV(frameLeftBlack,frameLeft),'#000',4.6),
  line(segsV(frameRightBlack,frameRight),'#000',4.6),
  line(ringOuter,'#9a9090',1,{clip:false}),
  line(ringInner,'#9a9090',.8),
  dots(lonlat(rightEdgeDots),rightEdgeDots.map(function(d){return mldColor(d[2])}),3.5)
],
{pos:'bottom',min:lonMin,max:lonMax,ticks:lonTicks,tl:0,pad:6,font:14,grid:true,gridColor:'#8a8a8a',dash:[1,3],label:function(v){return Math.abs(v)+'°W'}},
{pos:'left',min:latMin,max:latMax,ticks:latTicks.map(merc),tl:0,pad:7,font:14,grid:true,gridColor:'#8a8a8a',dash:[1,3],label:function(v,i){return latTicks[i]+'°N'}});

panel([490,36,70,312],[498,44,26,298],[gradientBar(MLD_STOPS,0,1812)],
{},{pos:'right',min:0,max:1812,ticks:mldBarTicks,tl:-4,pad:8,font:18,label:function(v){return v%400===200?v:''}},'bar');

// ---- (b)
panel([560,22,680,70],[606,29,625,49],[
  line(xy(profileYear.map(function(t,i){return [t,profileCount[i]]})),'#222',1.5)
],
{pos:'bottom',min:2.01,max:15.43,ticks:yearTicks,tl:-4,color:'#999',bw:2,label:function(){return ''}},
{pos:'left',min:0,max:75.4,ticks:[0,20,40,60],font:18,label:function(v){return v%60===0?v:''},pad:8});

// ---- (c)
panel([560,84,680,250],[606,90.7,625,218.3],[
  poly(xy([[dataStart,-.004],[dataEnd,-.004],[dataEnd,dataBottom],[dataStart,dataBottom]]),'#3d87c7'),
  poly(bandTo0(tempDarkEdge),'#00a8dc'),
  poly(bandTo0(tempMidEdge),'#04c6f0'),
  poly(bandTo0(tempLightEdge),'#1acbea'),
  poly(bandTo0(tempTealEdge),'#43cbe2'),
  poly(humps(greenStart,greenPeak,paleDepth,greenEnd),'#6bcdc8'),
  poly(humps(greenStart,greenPeak,greenDepth,greenEnd),'#93c99a'),
  poly(humps(greenStart,olivePeak,oliveDepth,oliveEnd),'#bccb55'),
  poly(humps(yellowStart,yellowPeak,yellowDepth,yellowEnd),'#ffdf12'),
  poly(strips(orangeStart,orangeEnd,orangeDepth),'#ff9d10'),
  poly(strips(redStart,redEnd,redDepth),'#f8160c'),
  poly(humps(winterStart,winterPeak,winterDepth,winterEnd),'#2f93d3'),
  poly(humps(winterStart,winterPeak,winterCore,winterEnd),'#4464b0'),
  line(xy(contourUpper),'#2b3a3f',.9),
  line(xy(contourLower),'#2b3a3f',.9),
  line(xy(contourWinter),'#2b3a3f',.9),
  line(xy(algorithmMld),'#fff',1.8),
  line(xy(thresholdMld),'#ffe60f',1.8),
  line([{x:2.01,y:-.0095},{x:15.43,y:-.0095}],'#999',2,{clip:false})
],
{pos:'bottom',min:2.01,max:15.43,ticks:yearTicks,tl:0,pad:4,font:18,color:'#777',bw:1.5,label:function(v,i){return yearLabels[i]}},
{pos:'left',min:-.0095,max:1.578,reverse:true,ticks:[0,.5,1,1.5],font:18,pad:7,label:function(v){return v===0||v===1?v:''}});

panel([1235,84,46,226],[1242,90,13,212],[gradientBar(TEMP_STOPS,.36,10.73)],
{},{pos:'right',min:.36,max:10.73,ticks:tempBarTicks,tl:-3,pad:9,font:17,label:function(v){return v}},'bar');

// ---- (d)
var profileSets=densityProfiles.map(function(row,i){
  var pts=row.map(function(r,k){return {x:r,y:profileDepths[k]}});
  if(i===6)return line(pts,'#6fdcf0',3.6,{tension:.3});
  if(i===16)return line(pts,'#6fbe00',3.6,{tension:.3});
  return line(pts,'#222',1.2,{tension:.3});
});
panel([0,385,645,230],[77.5,394.3,561.5,170.7],profileSets.concat([
  dots(algorithmDensity.map(function(x,i){return {x:x,y:algorithmDepth[i]}}),'#f00012',3.4),
  dots(thresholdDensity.map(function(x,i){return {x:x,y:thresholdDepth[i]}}),'#4058b2',3.4)
]),
{pos:'bottom',min:27.2012,max:27.748,ticks:densityMarkTicks,font:16,pad:10,
 tickColor:function(c){return Math.abs(c.tick.value*10-Math.round(c.tick.value*10))<.01?'rgba(0,0,0,0)':'#333'},
 label:function(v){var s=v.toFixed(2);return s.slice(-1)==='0'?s.slice(0,4):''}},
{pos:'left',min:0,max:1966,reverse:true,ticks:depthTicksD,font:16,pad:9,label:function(v){return v%400===0?v:''}});

// ---- (e)
panel([660,340,260,240],[725,350.3,176,216.4],[
  line(xy(eCyan),'#6fdcf0',3.6,{tension:.3}),
  line(xy(eGrey),'#d6d6d6',3.6,{tension:.3}),
  line(xy(eDashed),'#222',1.2,{borderDash:[3,3]}),
  dots(xy(eAlgorithm),'#f00012',5),
  dots(xy(eThreshold),'#4058b2',5)
],
{pos:'bottom',min:27.6808,max:27.7314,ticks:[27.69,27.70,27.71,27.72,27.73],font:18,pad:12,label:function(v){var s=v.toFixed(2);return s==='27.70'||s==='27.72'?'':s}},
{pos:'left',min:0,max:1000,reverse:true,ticks:[0,100,200,300,400,500,600,700,800,900,1000],font:18,pad:9,label:function(v){return v%200===0?v:''}});

// ---- (f)
panel([945,333,220,262],[1008.6,342.7,138.4,228.6],[
  line(xy(fGrey),'#d6d6d6',3.6,{tension:.3}),
  line(xy(fGreen),'#6fbe00',3.6,{tension:.3}),
  line(xy(fDashed),'#222',1.2,{borderDash:[3,3]}),
  dots(xy(fThresholdLight),'#5b82c8',5),
  dots(xy(fAlgorithm),'#f00012',5),
  dots(xy(fThreshold),'#4058b2',5)
],
{pos:'bottom',min:27.71,max:27.7499,ticks:[27.71,27.72,27.73,27.74],font:18,pad:14,label:function(v){var s=v.toFixed(2);return s==='27.71'||s==='27.73'?s:''}},
{pos:'left',min:0,max:1400,reverse:true,ticks:[0,200,400,600,800,1000,1200,1400],font:18,pad:9,label:function(v){return v}});

// ---- text
function text(html,x,y,size,opt){
  opt=opt||{};
  var d=document.createElement('div');
  d.className='t';d.innerHTML=html;
  d.style.left=x+'px';d.style.top=y+'px';d.style.fontSize=size+'px';
  if(opt.color)d.style.color=opt.color;
  if(opt.family)d.style.fontFamily=opt.family;
  if(opt.rot)d.style.transform='translate(-50%,-50%) rotate('+opt.rot+'deg)';
  page.appendChild(d);
}
var density='Potential density (kg m<sup>-3</sup>)';
text('(a)',25,26,16);
text('Mixed layer depth (m)',260,26,16);
text('(b)',570,20,16);
text('Number of profiles per month',742,45,16);
text('(c)',571,93,16);
text('Depth (km)',580,182,16,{rot:-90});
text('Algorithm MLD',681,205,16,{color:'#fff'});
text('Threshold MLD',684,229,16,{color:'#ffe60f'});
text('Conservative temperature (°C)',740,284,16,{color:'#17263a'});
text('Year',908,345,16);
text('(d)',28,383,16);
text('Mean profiles binned by threshold MLD',327,377,16);
text('Depth (m)',20,468,16,{rot:-90});
text(density,345,599,16);
text('(e)',677,352,16);
text('Depth (m)',673,461,16,{rot:-90});
text('600&gt;MLD&gt;550',888,396,18,{family:NUM});
text(density,823,606,16);
text('(f)',968,348,16);
text('Depth (m)',949,468,16,{rot:-90});
text('1150&gt;MLD&gt;1100',1169,398,18,{family:NUM});
text(density,1067,606,16);
text('Algorithm MLD',1198,458,16);
text('Threshold MLD',1198,480,16);
[['#f00012',458],['#4058b2',480]].forEach(function(p){
  var d=document.createElement('div');d.className='dot';
  d.style.left='1133px';d.style.top=p[1]+'px';d.style.background=p[0];page.appendChild(d);
});
</script>
</body>
</html>
